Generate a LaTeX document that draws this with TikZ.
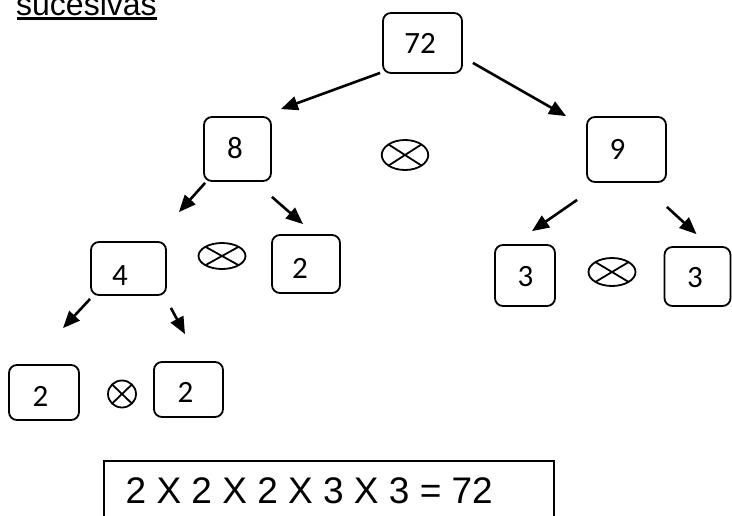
\documentclass[tikz,border=0pt]{standalone}
\usepackage{fontspec}
\setmainfont{Liberation Sans}
\newfontfamily\numfont{Carlito}
\usetikzlibrary{arrows.meta,shapes.geometric}
\begin{document}
\begin{tikzpicture}[x=1pt,y=-1pt,
  numbox/.style={draw, line width=1.8pt, rounded corners=8pt, inner sep=0pt},
  numtxt/.style={inner sep=0pt, font=\numfont\fontsize{31}{37}\selectfont},
  arr/.style={line width=2.6pt, -{Triangle[length=17pt,width=14pt]}},
  prodmark/.style={draw, ellipse, line width=1.8pt, inner sep=0pt},
  cross/.style={line width=1.8pt}
  ]
\useasboundingbox (0,0) rectangle (732,515);

% heading (upper part falls outside the page)
\node[anchor=base west, inner sep=0pt, font=\fontsize{32}{38}\selectfont] (title) at (16,15) {sucesivas};
\draw[line width=2.7pt] ([shift={(1,3.7)}]title.base west) -- ([shift={(0,3.7)}]title.base east);

% factor boxes
\node[numbox, minimum width=79pt, minimum height=60pt] (b72) at (422.5,43) {};
\node[numtxt] (t72) at (420,43) {72};
\node[numbox, minimum width=67pt, minimum height=64pt] (b8) at (237.5,149) {};
\node[numtxt] (t8) at (235,148.5) {8};
\node[numbox, minimum width=79pt, minimum height=65pt] (b9) at (626.5,149.5) {};
\node[numtxt] (t9) at (617.5,149) {9};
\node[numbox, minimum width=75pt, minimum height=53pt] (b4) at (128.5,268.5) {};
\node[numtxt] (t4) at (120,275.5) {4};
\node[numbox, minimum width=68pt, minimum height=58pt] (b2a) at (306,264) {};
\node[numtxt] (t2a) at (300,268.5) {2};
\node[numbox, minimum width=60pt, minimum height=61pt] (b3a) at (525,275.5) {};
\node[numtxt] (t3a) at (525.5,277) {3};
\node[numbox, minimum width=66pt, minimum height=59pt] (b3b) at (697.5,276.5) {};
\node[numtxt] (t3b) at (695,278) {3};
\node[numbox, minimum width=70pt, minimum height=55pt] (b2b) at (44,392.5) {};
\node[numtxt] (t2b) at (40.5,396.5) {2};
\node[numbox, minimum width=69pt, minimum height=55pt] (b2c) at (188.5,389.5) {};
\node[numtxt] (t2c) at (185.5,392.5) {2};

% product marks
\node[prodmark, minimum width=46.5pt, minimum height=30pt] (m1) at (405,155) {};
\draw[cross] ([shift={(-16.5,-10.6)}]m1.center) -- ([shift={(16.5,10.6)}]m1.center);
\draw[cross] ([shift={(-16.5,10.6)}]m1.center) -- ([shift={(16.5,-10.6)}]m1.center);
\node[prodmark, minimum width=47pt, minimum height=26pt] (m2) at (222,256) {};
\draw[cross] ([shift={(-16.6,-9.2)}]m2.center) -- ([shift={(16.6,9.2)}]m2.center);
\draw[cross] ([shift={(-16.6,9.2)}]m2.center) -- ([shift={(16.6,-9.2)}]m2.center);
\node[prodmark, minimum width=47pt, minimum height=28pt] (m3) at (612,272) {};
\draw[cross] ([shift={(-16.6,-9.9)}]m3.center) -- ([shift={(16.6,9.9)}]m3.center);
\draw[cross] ([shift={(-16.6,9.9)}]m3.center) -- ([shift={(16.6,-9.9)}]m3.center);
\node[prodmark, minimum width=28pt, minimum height=27pt] (m4) at (122,394) {};
\draw[cross] ([shift={(-9.9,-9.5)}]m4.center) -- ([shift={(9.9,9.5)}]m4.center);
\draw[cross] ([shift={(-9.9,9.5)}]m4.center) -- ([shift={(9.9,-9.5)}]m4.center);

% splitting arrows
\draw[arr] ([shift={(-2,-1)}]b72.south west) -- ([shift={(9,-7)}]b8.north east);
\draw[arr] ([shift={(10,-11)}]b72.south east) -- ([shift={(-20,0)}]b9.north west);
\draw[arr] ([shift={(2,1)}]b8.south west) -- ([shift={(12,-29)}]b4.north east);
\draw[arr] ([shift={(0,15)}]b8.south east) -- ([shift={(-3,-10)}]b2a.north);
\draw[arr] ([shift={(-9,17)}]b9.south west) -- ([shift={(7,-13)}]b3a.north);
\draw[arr] ([shift={(0,24)}]b9.south east) -- ([shift={(-1,-12)}]b3b.north);
\draw[arr] ([shift={(0,3)}]b4.south west) -- ([shift={(19,-36)}]b2b.north);
\draw[arr] ([shift={(4,12)}]b4.south east) -- ([shift={(-3.5,-27)}]b2c.north);

% result
\node[draw, line width=1.7pt, minimum width=450pt, minimum height=80pt, inner sep=0pt] (res) at (329,501) {};
\node[anchor=base west, inner sep=0pt, font=\fontsize{37}{44}\selectfont] (rtxt) at (125.5,503) {2 X 2 X 2 X 3 X 3 = 72};
\end{tikzpicture}
\end{document}
